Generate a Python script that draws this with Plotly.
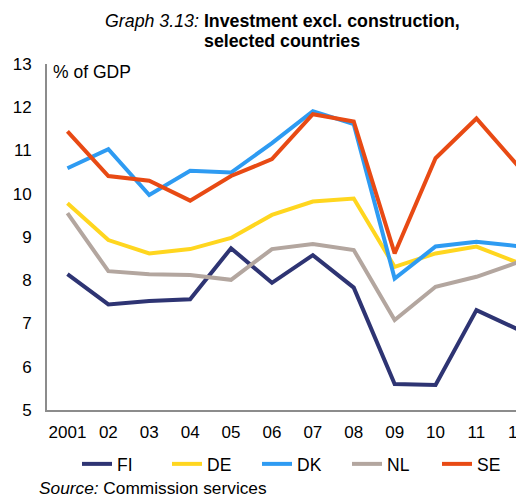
import plotly.graph_objects as go

years = ["2001", "02", "03", "04", "05", "06", "07", "08", "09", "10", "11", "12"]
fi = [8.14, 7.44, 7.52, 7.56, 8.74, 7.94, 8.58, 7.83, 5.60, 5.58, 7.31, 6.87]
de = [9.78, 8.93, 8.62, 8.72, 8.98, 9.51, 9.82, 9.89, 8.31, 8.62, 8.78, 8.41]
dk = [10.59, 11.03, 9.97, 10.53, 10.49, 11.17, 11.91, 11.61, 8.04, 8.78, 8.89, 8.79]
nl = [9.55, 8.21, 8.14, 8.12, 8.01, 8.72, 8.84, 8.70, 7.08, 7.85, 8.08, 8.41]
se = [11.44, 10.41, 10.30, 9.84, 10.41, 10.80, 11.84, 11.67, 8.62, 10.82, 11.74, 10.66]

series = [
    ("FI", fi, "#2E3473"),
    ("DE", de, "#FFD61F"),
    ("DK", dk, "#2E9BF2"),
    ("NL", nl, "#B3A69F"),
    ("SE", se, "#E84A14"),
]

fig = go.Figure()
for name, vals, col in series:
    fig.add_trace(go.Scatter(x=list(range(len(years))), y=vals, name=name, mode="lines",
                             line=dict(color=col, width=4), cliponaxis=False))

W, H = 524, 497
OFF = 8  # page body margin offset
# target plot area in screenshot pixels: left 47, top 64, bottom 410
L = 47 - OFF
T = 64 - OFF
B = H - (410 - OFF)
R = 0
pw = W - L - R
ph = H - T - B

def px(x):
    return (x - OFF - L) / pw

def py(y):
    return (H - B - (y - OFF)) / ph

font = "Liberation Sans, Arial, sans-serif"

fig.update_layout(
    width=W, height=H,
    margin=dict(l=L, r=R, t=T, b=B, autoexpand=False),
    paper_bgcolor="white", plot_bgcolor="white",
    font=dict(family=font, size=17, color="black"),
    showlegend=True,
    legend=dict(orientation="h", x=px(77), xanchor="left", y=py(464), yanchor="middle",
                font=dict(size=17.5), entrywidth=45, entrywidthmode="pixels",
                tracegroupgap=0, bgcolor="rgba(0,0,0,0)"),
    xaxis=dict(tickmode="array", tickvals=list(range(len(years))), ticktext=years,
               range=[-0.5, -0.5 + pw / 40.9], showgrid=False, zeroline=False,
               showline=True, linecolor="#8C8C8C", linewidth=2, ticks="",
               ticklabelstandoff=6, tickfont=dict(size=17), automargin=False),
    yaxis=dict(range=[5, 13], dtick=1, showgrid=False, zeroline=False,
               showline=True, linecolor="#8C8C8C", linewidth=2, ticks="",
               ticklabelstandoff=10, tickfont=dict(size=17), automargin=False),
    annotations=[
        dict(text="<i>Graph 3.13:</i> <b>Investment excl. construction,</b>",
             x=px(282), y=py(21), xref="paper", yref="paper", xanchor="center", yanchor="middle",
             showarrow=False, font=dict(size=17.8)),
        dict(text="<b>selected countries</b>",
             x=px(282), y=py(41), xref="paper", yref="paper", xanchor="center", yanchor="middle",
             showarrow=False, font=dict(size=17.8)),
        dict(text="% of GDP", x=px(51), y=py(72), xref="paper", yref="paper",
             xanchor="left", yanchor="middle", showarrow=False, font=dict(size=17.5)),
        dict(text="<i>Source:</i> Commission services", x=px(37), y=py(488), xref="paper", yref="paper",
             xanchor="left", yanchor="middle", showarrow=False, font=dict(size=17.3)),
    ],
)

fig.write_html("out.html")
